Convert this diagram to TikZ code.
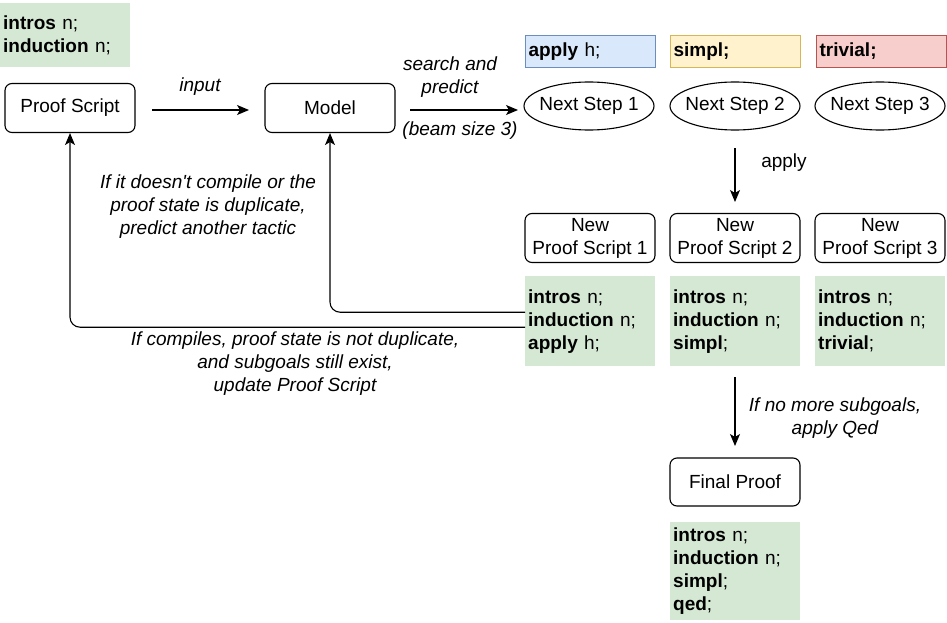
\documentclass[tikz,border=0pt]{standalone}
\usepackage{fontspec}
\setmainfont{Liberation Sans}
\usetikzlibrary{shapes.geometric,arrows.meta}
\definecolor{gfill}{HTML}{D5E8D4}
\definecolor{bfill}{HTML}{DAE8FC}
\definecolor{bline}{HTML}{6C8EBF}
\definecolor{yfill}{HTML}{FFF2CC}
\definecolor{yline}{HTML}{D6B656}
\definecolor{rfill}{HTML}{F8CECC}
\definecolor{rline}{HTML}{B85450}
\begin{document}
\begin{tikzpicture}[x=1pt,y=-1pt,
  font=\fontsize{19}{23}\selectfont,
  box/.style={draw, rounded corners=7pt, minimum width=130pt, minimum height=49pt, align=center, line width=1.1pt, inner sep=1pt},
  ell/.style={draw, ellipse, minimum width=130pt, minimum height=48pt, line width=1.1pt, inner sep=0pt},
  code/.style={fill=gfill, anchor=north west, align=left, text width=124pt, inner xsep=3pt, inner ysep=0pt},
  tac/.style={anchor=north west, align=left, text width=124pt, inner xsep=3pt, inner ysep=0pt, minimum height=32pt, line width=1.1pt, font=\fontsize{19}{23}\selectfont\bfseries},
  lbl/.style={align=center, font=\fontsize{19}{23}\selectfont\itshape},
  arr/.style={-{Stealth[length=12pt,width=10pt,inset=3pt]}, line width=1.1pt}
]
\useasboundingbox (0,0) rectangle (947,623);

% top-left script
\node[code, minimum height=64pt] (c0) at (0,3) {\textbf{intros} n;\\\textbf{induction} n;};

% main boxes
\node[box] (ps) at (70,108) {Proof Script};
\node[box] (model) at (330,108) {Model};

% next steps
\node[ell] (n1) at (589,106) {\makebox[0pt]{Next Step 1}};
\node[ell] (n2) at (735,106) {\makebox[0pt]{Next Step 2}};
\node[ell] (n3) at (880,106) {\makebox[0pt]{Next Step 3}};

% tactics
\node[tac, draw=bline, fill=bfill] (t1) at (525,35) {apply \textmd{h;}};
\node[tac, draw=yline, fill=yfill] (t2) at (670,35) {simpl;};
\node[tac, draw=rline, fill=rfill] (t3) at (816,35) {trivial;};

% new proof scripts
\node[box] (s1) at (590,238) {New\\Proof Script 1};
\node[box] (s2) at (735,238) {New\\Proof Script 2};
\node[box] (s3) at (880,238) {New\\Proof Script 3};

\node[code, minimum height=90pt] (c1) at (525,276) {\textbf{intros} n;\\\textbf{induction} n;\\\textbf{apply} h;};
\node[code, minimum height=90pt] (c2) at (670,276) {\textbf{intros} n;\\\textbf{induction} n;\\\textbf{simpl};};
\node[code, minimum height=90pt] (c3) at (815,276) {\textbf{intros} n;\\\textbf{induction} n;\\\textbf{trivial};};

% final
\node[box, minimum height=48pt] (fp) at (735,482) {Final Proof};
\node[code, minimum height=98pt] (c4) at (670,522) {\textbf{intros} n;\\\textbf{induction} n;\\\textbf{simpl};\\\textbf{qed};};

% arrows
\coordinate (a0) at (152,110);
\coordinate (a1) at (249,110);
\draw[arr] (a0) -- (a1);
\node[lbl] (linput) at (200,87) {input};

\coordinate (b0) at (410,110);
\coordinate (b1) at (518,110);
\draw[arr] (b0) -- (b1);
\node[lbl] (lsearch) at (450,77) {search and\\predict};
\node[lbl] (lbeam) at (460,131) {(beam size 3)};

\coordinate (d0) at (735,148);
\coordinate (d1) at (735,202);
\draw[arr] (d0) -- (d1);
\node[font=\fontsize{19}{23}\selectfont] (lapply) at (784,163) {apply};

\coordinate (e0) at (735,377);
\coordinate (e1) at (735,446);
\draw[arr] (e0) -- (e1);
\node[lbl] (lqed) at (835,418) {If no more subgoals,\\apply Qed};

\draw[arr, rounded corners=10pt] ([yshift=9pt]c1.west) -| (model.south);
\draw[arr, rounded corners=10pt] ([yshift=-6pt]c1.west) -| (ps.south);

\node[lbl] (ldup) at (208,207) {If it doesn\textquotesingle t compile or the\\proof state is duplicate,\\predict another tactic};
\node[lbl] (lupd) at (295,364) {If compiles, proof state is not duplicate,\\and subgoals still exist,\\update Proof Script};
\end{tikzpicture}
\end{document}
